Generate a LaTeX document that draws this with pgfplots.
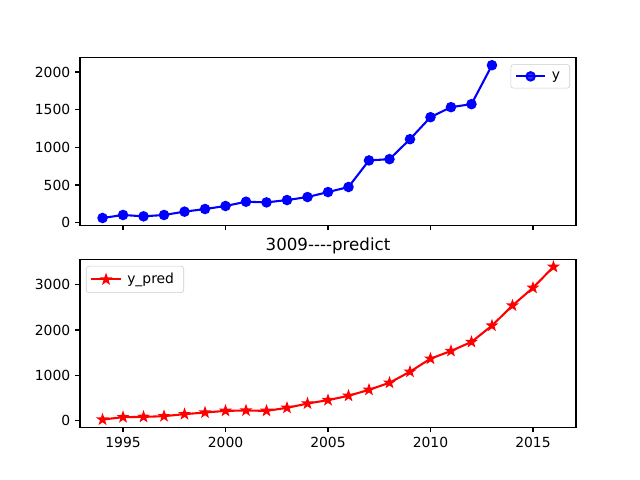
\documentclass[border=0pt]{standalone}
\usepackage{fontspec}
\setmainfont{DejaVu Sans}
\usepackage{pgfplots}
\pgfplotsset{compat=1.18}

% filled five-pointed star, like matplotlib's '*'
\pgfdeclareplotmark{fstar}{%
  \pgfpathmoveto{\pgfqpointpolar{90}{\pgfplotmarksize}}%
  \pgfpathlineto{\pgfqpointpolar{126}{0.4\pgfplotmarksize}}%
  \pgfpathlineto{\pgfqpointpolar{162}{\pgfplotmarksize}}%
  \pgfpathlineto{\pgfqpointpolar{198}{0.4\pgfplotmarksize}}%
  \pgfpathlineto{\pgfqpointpolar{234}{\pgfplotmarksize}}%
  \pgfpathlineto{\pgfqpointpolar{270}{0.4\pgfplotmarksize}}%
  \pgfpathlineto{\pgfqpointpolar{306}{\pgfplotmarksize}}%
  \pgfpathlineto{\pgfqpointpolar{342}{0.4\pgfplotmarksize}}%
  \pgfpathlineto{\pgfqpointpolar{18}{\pgfplotmarksize}}%
  \pgfpathlineto{\pgfqpointpolar{54}{0.4\pgfplotmarksize}}%
  \pgfpathclose
  \pgfusepathqfillstroke}

\pgfplotsset{
  mpl/.style={
    scale only axis, width=357.12pt, height=120.96pt,
    anchor=south west,
    xmin=1992.9, xmax=2017.1,
    xtick={1995,2000,2005,2010,2015},
    tick align=outside, xtick pos=bottom, ytick pos=left,
    major tick length=3.5pt,
    every tick/.style={black, line width=0.8pt},
    axis line style={line width=0.8pt},
    /pgf/number format/assume math mode=true,
    /pgf/number format/set thousands separator={},
    tick label style={font=\fontsize{10}{12}\selectfont},
    legend cell align=left,
    legend style={font=\fontsize{10}{12}\selectfont, draw=black!20,
      rounded corners=2pt, fill=white, fill opacity=0.8, text opacity=1,
      inner xsep=3pt, inner ysep=3pt, row sep=0pt,
      nodes={inner xsep=4pt}},
    legend image code/.code={%
      \draw[mark repeat=2,mark phase=2] plot coordinates {(0cm,0cm) (0.37cm,0cm) (0.74cm,0cm)};},
  }
}

\begin{document}
\begin{tikzpicture}
\path (0,0) rectangle (460.8pt,345.6pt);

% observed series
\begin{axis}[mpl, at={(57.6pt,183.168pt)},
  ymin=-39, ymax=2191, ytick={0,500,1000,1500,2000},
  xticklabels={},
  legend style={at={(0.988,0.96)}, anchor=north east}]
\addplot[blue, line width=1.5pt, mark=*, mark size=3pt] coordinates {
  (1994,62) (1995,102) (1996,84) (1997,102) (1998,146) (1999,181)
  (2000,221) (2001,278) (2002,269) (2003,300) (2004,340) (2005,406)
  (2006,473) (2007,826) (2008,843) (2009,1108) (2010,1400) (2011,1533)
  (2012,1573) (2013,2090)
};
\addlegendentry{y}
\end{axis}

% predicted series
\begin{axis}[mpl, at={(57.6pt,38.016pt)},
  ymin=-139, ymax=3559, ytick={0,1000,2000,3000},
  title={3009{-}{-}{-}{-}predict},
  title style={font=\fontsize{12}{14}\selectfont, yshift=-5.5pt},
  legend style={at={(0.012,0.96)}, anchor=north west}]
\addplot[red, line width=1.5pt, mark=fstar, mark size=2.6pt] coordinates {
  (1994,29) (1995,82) (1996,88) (1997,104) (1998,148) (1999,184)
  (2000,221) (2001,228) (2002,221) (2003,287) (2004,382) (2005,457)
  (2006,552) (2007,684) (2008,839) (2009,1082) (2010,1369) (2011,1539)
  (2012,1737) (2013,2097) (2014,2539) (2015,2929) (2016,3391)
};
\addlegendentry{y\_pred}
\end{axis}
\end{tikzpicture}
\end{document}
